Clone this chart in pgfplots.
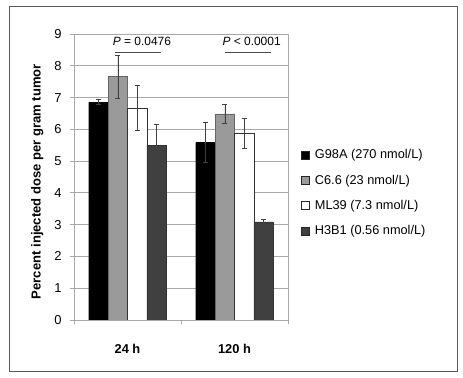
\documentclass[border=0pt]{standalone}
\usepackage{fontspec}
\setmainfont{Liberation Sans}
\usepackage{pgfplots}
\pgfplotsset{compat=1.18}
\definecolor{barC}{HTML}{9A9A9A}
\definecolor{barH}{HTML}{404040}
\definecolor{gridc}{HTML}{A8A8A8}
\pgfplotsset{myerr/.style={error bars/.cd, y dir=both, y explicit,
  error bar style={black!75, line width=0.6bp},
  error mark options={rotate=90, mark size=2.5bp, line width=0.6bp, black!75}}}
\begin{document}
\begin{tikzpicture}
\useasboundingbox (0bp,0bp) rectangle (463bp,378bp);
\draw[black!65, line width=1bp] (9bp,6bp) rectangle (457bp,371bp);
\begin{axis}[
  at={(74bp,58bp)}, anchor=south west,
  scale only axis, width=214bp, height=286bp,
  xmin=-0.5, xmax=1.5, ymin=0, ymax=9,
  ybar=0pt, bar width=19.4bp,
  axis line style={gridc, line width=0.8bp},
  ymajorgrids, grid style={gridc, line width=0.8bp},
  ytick={0,1,...,9},
  tick align=outside, tick pos=left,
  major tick length=4bp,
  tick style={gridc, line width=0.8bp},
  xtick={-0.5,0.5,1.5}, xticklabels={},
  extra x ticks={0,1}, extra x tick labels={24 h,120 h},
  extra x tick style={major tick length=0pt, grid=none,
     xticklabel style={font=\bfseries\fontsize{12.9}{13}\selectfont, yshift=-21bp}},
  /pgf/number format/assume math mode=true,
  yticklabel style={font=\fontsize{13}{13}\selectfont, xshift=-5bp},
  ylabel={Percent injected dose per gram tumor},
  every axis y label/.style={at={(axis description cs:-0.172,0.484)}, rotate=90, anchor=center,
     font=\bfseries\fontsize{13.1}{13}\selectfont},
  legend cell align=left,
  legend style={draw=none, fill=none, at={(axis description cs:1.062,0.603)}, anchor=north west,
     font=\fontsize{12.8}{13}\selectfont, row sep=10.5bp, inner sep=0pt},
  legend image code/.code={\draw[#1, draw=black!85, line width=0.5bp] (0bp,-4bp) rectangle (8bp,4bp); \path (11bp,0bp);},
]
\addplot[fill=black, draw=black, myerr] coordinates {(0,6.86) +- (0,0.08) (1,5.59) +- (0,0.63)};
\addplot[fill=barC, draw=black!60, myerr] coordinates {(0,7.66) +- (0,0.67) (1,6.49) +- (0,0.31)};
\addplot[fill=white, draw=black!80, myerr] coordinates {(0,6.68) +- (0,0.70) (1,5.87) +- (0,0.47)};
\addplot[fill=barH, draw=black!80, myerr] coordinates {(0,5.50) +- (0,0.66) (1,3.09) +- (0,0.08)};
\legend{G98A (270 nmol/L),C6.6 (23 nmol/L),ML39 (7.3 nmol/L),H3B1 (0.56 nmol/L)}
\draw[black!70, line width=0.8bp] (axis cs:-0.117,8.42) -- (axis cs:0.313,8.42);
\draw[black!70, line width=0.8bp] (axis cs:0.91,8.42) -- (axis cs:1.34,8.42);
\node[font=\fontsize{12}{12}\selectfont] at (axis cs:0.135,8.76) {\textit{P} = 0.0476};
\node[font=\fontsize{12}{12}\selectfont] at (axis cs:1.16,8.76) {\textit{P} < 0.0001};
\end{axis}
\end{tikzpicture}
\end{document}
